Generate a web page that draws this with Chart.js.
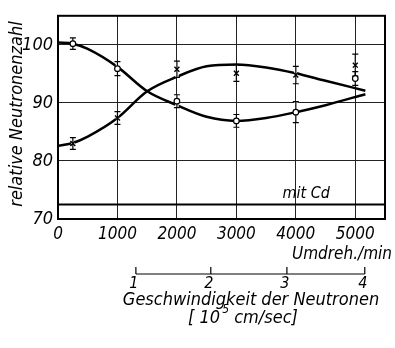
<!DOCTYPE html>
<html>
<head>
<meta charset="utf-8">
<script src="https://cdn.jsdelivr.net/npm/chart.js@4.4.0/dist/chart.umd.min.js"></script>
<style>
  html, body { margin: 0; padding: 0; background: #fff; }
</style>
</head>
<body>
<canvas id="chart" width="395" height="348"></canvas>
<script>
// measured points (Umdreh./min)
var rpm = [250, 1000, 2000, 3000, 4000, 5000];
var circleVals = [100.2, 95.9, 90.3, 86.9, 88.4, 94.2];
var circleErr = [1.0, 1.2, 1.1, 1.1, 1.8, 1.2];
var crossVals = [83.0, 87.4, 95.8, 95.1, 94.8, 96.5];
var crossErr = [1.0, 1.1, 1.4, 1.4, 1.5, 1.9];

// hand drawn curves
var curveX = [0, 250, 500, 1000, 1500, 2000, 2500, 3000, 3500, 4000, 4500, 5170];
var fallCurve = [100.4, 100.2, 99.3, 96.2, 92.0, 89.6, 87.6, 86.9, 87.4, 88.4, 89.6, 91.5];
var riseCurve = [82.6, 83.1, 84.2, 87.4, 92.0, 94.5, 96.3, 96.6, 96.1, 95.1, 93.8, 92.1];

// mit Cd
var cdX = [0, 5500];
var cdVals = [72.5, 72.5];

var xTicks = [0, 1000, 2000, 3000, 4000, 5000];
var yTicks = [70, 80, 90, 100];

// second scale: Geschwindigkeit der Neutronen
var speedTicks = [1, 2, 3, 4];
var speedRpm = [1310, 2570, 3850, 5160];

var FONT = '"Liberation Sans Narrow", "DejaVu Sans Condensed", "DejaVu Sans", sans-serif';

function pts(xs, ys) {
    var out = [];
    for (var i = 0; i < xs.length; i++) {
        out.push({ x: xs[i], y: ys[i] });
    }
    return out;
}

var errorBars = {
    id: 'errorBars',
    beforeDatasetDraw: function (chart, args) {
        if (args.index !== 3) return;
        var xs = chart.scales.x, ys = chart.scales.y, ctx = chart.ctx;
        var sets = [[circleVals, circleErr], [crossVals, crossErr]];
        ctx.save();
        for (var pass = 0; pass < 2; pass++) {
            ctx.strokeStyle = pass === 0 ? '#fff' : '#000';
            ctx.lineWidth = pass === 0 ? 3.5 : 1.2;
            for (var s = 0; s < sets.length; s++) {
                for (var i = 0; i < rpm.length; i++) {
                    var px = xs.getPixelForValue(rpm[i]);
                    var top = ys.getPixelForValue(sets[s][0][i] + sets[s][1][i]);
                    var bot = ys.getPixelForValue(sets[s][0][i] - sets[s][1][i]);
                    ctx.beginPath();
                    ctx.moveTo(px, top);
                    ctx.lineTo(px, bot);
                    if (pass === 1) {
                        ctx.moveTo(px - 3, top);
                        ctx.lineTo(px + 3, top);
                        ctx.moveTo(px - 3, bot);
                        ctx.lineTo(px + 3, bot);
                    }
                    ctx.stroke();
                }
            }
        }
        ctx.restore();
    }
};

var extras = {
    id: 'extras',
    afterDraw: function (chart) {
        var ctx = chart.ctx, xs = chart.scales.x, ys = chart.scales.y, a = chart.chartArea;
        ctx.save();
        // frame
        ctx.strokeStyle = '#000';
        ctx.lineWidth = 2;
        ctx.strokeRect(a.left, a.top, a.right - a.left, a.bottom - a.top);

        ctx.fillStyle = '#000';
        ctx.textBaseline = 'middle';

        // y title
        ctx.save();
        ctx.translate(17, 114);
        ctx.rotate(-Math.PI / 2);
        ctx.textAlign = 'center';
        ctx.font = 'italic 18px ' + FONT;
        ctx.fillText('relative Neutronenzahl', 0, 0);
        ctx.restore();

        // mit Cd
        ctx.textAlign = 'center';
        ctx.font = 'italic 16px ' + FONT;
        ctx.fillText('mit Cd', xs.getPixelForValue(4175), ys.getPixelForValue(74.4));

        // x title
        ctx.textAlign = 'right';
        ctx.font = 'italic 17px ' + FONT;
        ctx.fillText('Umdreh./min', 392, 255);

        // speed axis
        var lineY = 274;
        var x0 = xs.getPixelForValue(speedRpm[0]);
        var x1 = xs.getPixelForValue(speedRpm[speedRpm.length - 1]);
        ctx.lineWidth = 1.2;
        ctx.beginPath();
        ctx.moveTo(x0, lineY);
        ctx.lineTo(x1, lineY);
        for (var i = 0; i < speedRpm.length; i++) {
            var px = xs.getPixelForValue(speedRpm[i]);
            ctx.moveTo(px, lineY);
            ctx.lineTo(px, lineY - 7);
        }
        ctx.stroke();
        ctx.textAlign = 'center';
        ctx.font = 'italic 16px ' + FONT;
        for (var j = 0; j < speedTicks.length; j++) {
            ctx.fillText(String(speedTicks[j]), xs.getPixelForValue(speedRpm[j]) - 2, 284);
        }

        ctx.font = 'italic 18px ' + FONT;
        ctx.fillText('Geschwindigkeit der Neutronen', 251, 300);

        // [10^5 cm/sec]
        ctx.textAlign = 'left';
        var p1 = '[ 10', p2 = '5', p3 = ' cm/sec]';
        ctx.font = 'italic 18px ' + FONT;
        var w1 = ctx.measureText(p1).width + 2, w3 = ctx.measureText(p3).width;
        ctx.font = 'italic 12px ' + FONT;
        var w2 = ctx.measureText(p2).width;
        var sx = 243 - (w1 + w2 + w3) / 2;
        ctx.font = 'italic 18px ' + FONT;
        ctx.fillText(p1, sx, 318);
        ctx.fillText(p3, sx + w1 + w2, 318);
        ctx.font = 'italic 12px ' + FONT;
        ctx.fillText(p2, sx + w1, 310);
        ctx.restore();
    }
};

new Chart(document.getElementById('chart'), {
    type: 'line',
    data: {
        datasets: [{
            data: pts(curveX, fallCurve),
            borderColor: '#000',
            borderWidth: 2.5,
            pointRadius: 0,
            cubicInterpolationMode: 'monotone',
            order: 3
        }, {
            data: pts(curveX, riseCurve),
            borderColor: '#000',
            borderWidth: 2.5,
            pointRadius: 0,
            cubicInterpolationMode: 'monotone',
            order: 3
        }, {
            data: pts(cdX, cdVals),
            borderColor: '#000',
            borderWidth: 2,
            pointRadius: 0,
            order: 3
        }, {
            data: pts(rpm, crossVals),
            showLine: false,
            pointStyle: 'crossRot',
            pointRadius: 3.5,
            borderColor: '#000',
            borderWidth: 1.4,
            order: 1
        }, {
            data: pts(rpm, circleVals),
            showLine: false,
            pointStyle: 'circle',
            pointRadius: 2.8,
            backgroundColor: '#fff',
            borderColor: '#000',
            borderWidth: 1.2,
            order: 0
        }]
    },
    options: {
        responsive: false,
        animation: false,
        layout: { padding: { top: 12, right: 10, left: 0, bottom: 0 } },
        plugins: {
            legend: { display: false },
            tooltip: { enabled: false }
        },
        scales: {
            x: {
                type: 'linear',
                min: 0,
                max: 5500,
                afterBuildTicks: function (scale) {
                    scale.ticks = xTicks.map(function (v) { return { value: v }; });
                },
                afterFit: function (scale) { scale.height = 129; },
                grid: { color: '#222', lineWidth: 1, drawTicks: false },
                border: { color: '#000', width: 2 },
                ticks: {
                    color: '#000',
                    padding: 5,
                    maxRotation: 0,
                    callback: function (value) { return String(value); },
                    font: { family: FONT, size: 17, style: 'italic' }
                }
            },
            y: {
                min: 70,
                max: 105,
                afterBuildTicks: function (scale) {
                    scale.ticks = yTicks.map(function (v) { return { value: v }; });
                },
                afterFit: function (scale) { scale.width = 58; },
                grid: { color: '#222', lineWidth: 1, drawTicks: false },
                border: { color: '#000', width: 2 },
                ticks: {
                    color: '#000',
                    padding: 5,
                    callback: function (value) { return String(value); },
                    font: { family: FONT, size: 18, style: 'italic' }
                }
            }
        }
    },
    plugins: [errorBars, extras]
});
</script>
</body>
</html>
